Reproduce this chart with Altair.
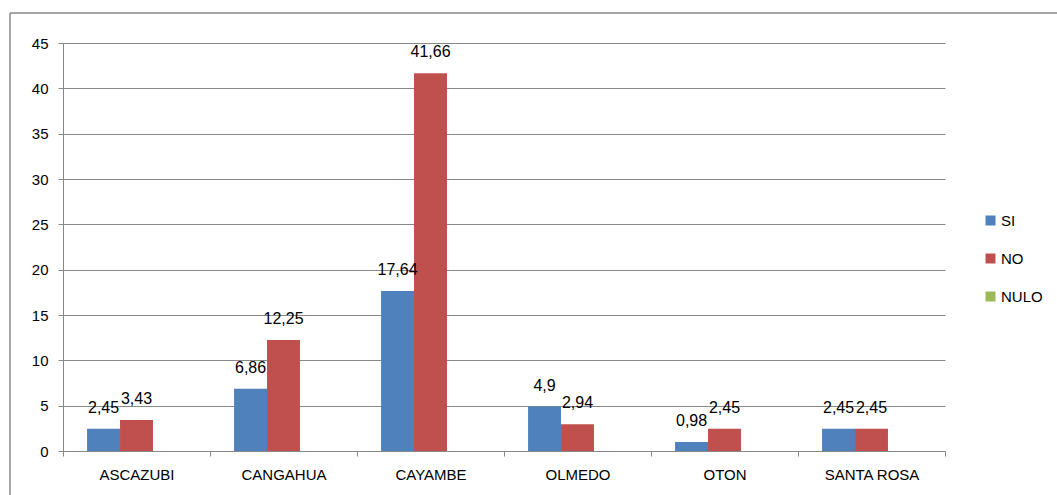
import altair as alt
import pandas as pd

# Referendum results by parish (percent of votes)
municipios = ["ASCAZUBI", "CANGAHUA", "CAYAMBE", "OLMEDO", "OTON", "SANTA ROSA"]
series = ["SI", "NO", "NULO"]
si_vals = [2.45, 6.86, 17.64, 4.9, 0.98, 2.45]
no_vals = [3.43, 12.25, 41.66, 2.94, 2.45, 2.45]
nulo_vals = [0, 0, 0, 0, 0, 0]
colores = ["#4F81BD", "#C0504D", "#9BBB59"]
y_ticks = [0, 5, 10, 15, 20, 25, 30, 35, 40, 45]

rows = []
for serie, vals in zip(series, [si_vals, no_vals, nulo_vals]):
    for m, v in zip(municipios, vals):
        rows.append({"Municipio": m, "Serie": serie, "Valor": v})
df = pd.DataFrame(rows)

FONT = "Liberation Sans"
W, H = 882, 408
GRAY = "#888888"

x_enc = alt.X(
    "Municipio:N",
    sort=municipios,
    title=None,
    scale=alt.Scale(paddingInner=0, paddingOuter=0),
    axis=alt.Axis(
        labelAngle=0,
        tickBand="extent",
        tickSize=5,
        tickColor=GRAY,
        domainColor=GRAY,
        labelFont=FONT,
        labelFontSize=15,
        labelColor="#000000",
        labelPadding=11,
        grid=False,
    ),
)
xoff = alt.XOffset("Serie:N", sort=series, scale=alt.Scale(paddingInner=0, paddingOuter=0.73))
y_enc = alt.Y(
    "Valor:Q",
    title=None,
    scale=alt.Scale(domain=[0, 45], nice=False),
    axis=alt.Axis(
        values=y_ticks,
        tickSize=5,
        tickColor=GRAY,
        domainColor=GRAY,
        gridColor=GRAY,
        gridWidth=1,
        labelFont=FONT,
        labelFontSize=15,
        labelColor="#000000",
        labelPadding=10,
    ),
)

bars = alt.Chart(df).mark_bar().encode(
    x=x_enc,
    xOffset=xoff,
    y=y_enc,
    color=alt.Color(
        "Serie:N",
        sort=series,
        scale=alt.Scale(domain=series, range=colores),
        legend=alt.Legend(
            title=None,
            orient="none",
            legendX=W + 38,
            legendY=170,
            symbolType="square",
            symbolSize=100,
            symbolStrokeWidth=0,
            labelFont=FONT,
            labelFontSize=15,
            labelColor="#000000",
            rowPadding=22,
            labelOffset=3,
        ),
    ),
)

labels = (
    alt.Chart(df)
    .transform_filter("datum.Valor > 0")
    .transform_calculate(etiqueta="replace(toString(datum.Valor), '.', ',')")
    .mark_text(font=FONT, fontSize=16, color="#000000", baseline="alphabetic", dy=-16)
    .encode(x=alt.X("Municipio:N", sort=municipios), xOffset=alt.XOffset("Serie:N", sort=series), y="Valor:Q", text="etiqueta:N")
)

# Outer frame (top and left edges visible inside the canvas)
frame_df = pd.DataFrame({"k": [0]})
frame_top = alt.Chart(frame_df).mark_rule(color=GRAY, strokeWidth=1.5).encode(
    x=alt.value(-53), x2=alt.value(1057 - 63), y=alt.value(-30)
)
frame_left = alt.Chart(frame_df).mark_rule(color=GRAY, strokeWidth=1.5).encode(
    x=alt.value(-53), y=alt.value(-30), y2=alt.value(495 - 43)
)

chart = (
    alt.layer(bars, labels, frame_top, frame_left)
    .properties(
        width=W,
        height=H,
        autosize=alt.AutoSizeParams(type="none"),
        padding={"left": 63, "top": 43, "right": 1057 - 63 - W, "bottom": 495 - 43 - H},
        background="#FFFFFF",
    )
    .configure_view(stroke=None)
)

chart.save("out.html", embed_options={"renderer": "svg", "actions": False})
